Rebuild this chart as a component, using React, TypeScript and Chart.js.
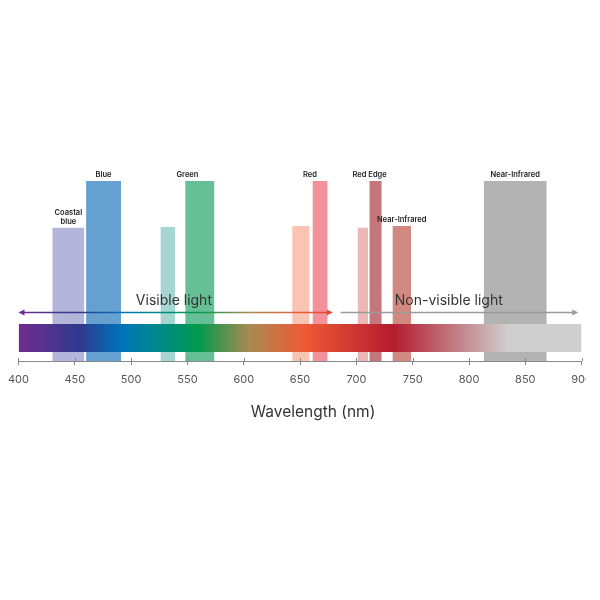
import { useEffect, useRef } from "react";
import { Chart, registerables } from "chart.js";

Chart.register(...registerables);

// ---- data ----
const axisMin = 400;
const axisMax = 900;
const axisStep = 50;
const yMax = 200;

const bandStart = [430, 460, 526, 548, 643, 661, 701, 711.5, 732, 813];
const bandEnd = [458.5, 491, 539, 574, 658.5, 674.5, 710.5, 722.5, 748.5, 869];
const bandHeight = [74, 100, 74.5, 100, 75, 100, 74, 100, 75, 100];
const bandColors = [
  "#b3b6da", "#65a0d0", "#a6d6d2", "#67c095", "#f9c4b1",
  "#f3929a", "#ebb8b5", "#c4767a", "#d28981", "#b3b3b3",
];

const labelTexts = [["Coastal", "blue"], ["Blue"], ["Green"], ["Red"], ["Red Edge"], ["Near-Infrared"], ["Near-Infrared"]];
const labelBands = [[0], [1], [2, 3], [4, 5], [6, 7], [8], [9]];

const spectrumStops = [400, 455, 490, 521, 559, 605, 653, 733, 835, 900];
const spectrumColors = ["#702c8f", "#2e3a8e", "#0071b9", "#00878f", "#009a4d", "#a88a52", "#ef5a36", "#b31c2e", "#cfcfcf", "#cfcfcf"];
const spectrumBottom = 5;
const spectrumTop = 20.5;

const arrowTexts = ["Visible light", "Non-visible light"];
const arrowFrom = [400, 686];
const arrowTo = [679, 897];
const arrowTextAt = [538, 782];
const arrowY = 27;

const axisTitle = "Wavelength (nm)";

const FONT = "Inter, 'Noto Sans', sans-serif";

function spectrumGradient(chart: any) {
  const { ctx, chartArea, scales } = chart;
  if (!chartArea) return "#ccc";
  const x0 = scales.x.getPixelForValue(axisMin);
  const x1 = scales.x.getPixelForValue(axisMax);
  const g = ctx.createLinearGradient(x0, 0, x1, 0);
  spectrumStops.forEach((nm, i) => g.addColorStop((nm - axisMin) / (axisMax - axisMin), spectrumColors[i]));
  return g;
}

const overlayPlugin = {
  id: "overlay",
  afterDraw(chart: any) {
    const ctx = chart.ctx;
    const xs = chart.scales.x;
    const ys = chart.scales.y;
    const y0 = ys.getPixelForValue(0);
    ctx.save();
    // upward part of tick marks
    ctx.strokeStyle = "#888";
    ctx.lineWidth = 1;
    for (let v = axisMin; v <= axisMax; v += axisStep) {
      const px = Math.round(xs.getPixelForValue(v)) + 0.5;
      ctx.beginPath();
      ctx.moveTo(px, y0 - 3);
      ctx.lineTo(px, y0);
      ctx.stroke();
    }
    // band labels
    ctx.fillStyle = "#222";
    ctx.font = `600 7.5px ${FONT}`;
    ctx.textAlign = "center";
    ctx.textBaseline = "alphabetic";
    labelTexts.forEach((lines, i) => {
      const idx = labelBands[i];
      const s = Math.min(...idx.map((k) => bandStart[k]));
      const e = Math.max(...idx.map((k) => bandEnd[k]));
      const h = Math.max(...idx.map((k) => bandHeight[k]));
      const cx = xs.getPixelForValue((s + e) / 2);
      const base = ys.getPixelForValue(h) - 4;
      lines.forEach((t, j) => {
        ctx.fillText(t, cx, base - (lines.length - 1 - j) * 8.5);
      });
    });
    // arrows
    const ay = ys.getPixelForValue(arrowY);
    const grad = spectrumGradient(chart);
    arrowTexts.forEach((t, i) => {
      const xa = xs.getPixelForValue(arrowFrom[i]);
      const xb = xs.getPixelForValue(arrowTo[i]);
      const visible = i === 0;
      const col = visible ? grad : "#9a9a9a";
      ctx.strokeStyle = col;
      ctx.fillStyle = col;
      ctx.lineWidth = 1.5;
      ctx.beginPath();
      ctx.moveTo(xa + (visible ? 4 : 0), ay);
      ctx.lineTo(xb - 4, ay);
      ctx.stroke();
      ctx.beginPath();
      ctx.moveTo(xb, ay);
      ctx.lineTo(xb - 6, ay - 3);
      ctx.lineTo(xb - 6, ay + 3);
      ctx.closePath();
      ctx.fill();
      if (visible) {
        ctx.beginPath();
        ctx.moveTo(xa, ay);
        ctx.lineTo(xa + 6, ay - 3);
        ctx.lineTo(xa + 6, ay + 3);
        ctx.closePath();
        ctx.fill();
      }
      ctx.fillStyle = "#333";
      ctx.font = `400 14px ${FONT}`;
      ctx.textAlign = "center";
      ctx.textBaseline = "alphabetic";
      ctx.fillText(t, xs.getPixelForValue(arrowTextAt[i]), ay - 7);
    });
    // axis title (sits right of the axis centre in the original)
    const ca = chart.chartArea;
    ctx.fillStyle = "#333";
    ctx.font = `400 15.5px ${FONT}`;
    ctx.textAlign = "center";
    ctx.textBaseline = "alphabetic";
    ctx.fillText(axisTitle, (ca.left + ca.right) / 2 + 13, xs.bottom + 23);
    ctx.restore();
  },
};

export default function App() {
  const ref = useRef<HTMLCanvasElement | null>(null);
  useEffect(() => {
    if (!ref.current) return;
    const bandSets = bandStart.map((s, i) => ({
      type: "line" as const,
      data: [
        { x: s, y: 0 },
        { x: s, y: bandHeight[i] },
        { x: bandEnd[i], y: bandHeight[i] },
        { x: bandEnd[i], y: 0 },
      ],
      backgroundColor: bandColors[i],
      borderColor: "rgba(0,0,0,0)",
      borderWidth: 0,
      pointRadius: 0,
      fill: "origin",
      tension: 0,
      order: 1,
    }));
    const spectrumSet = {
      type: "line" as const,
      data: [
        { x: axisMin, y: spectrumTop },
        { x: axisMax, y: spectrumTop },
      ],
      backgroundColor: (c: any) => spectrumGradient(c.chart),
      borderColor: "rgba(0,0,0,0)",
      borderWidth: 0,
      pointRadius: 0,
      fill: { value: spectrumBottom },
      order: 0,
    };
    const chart = new Chart(ref.current, {
      type: "line",
      data: { datasets: [spectrumSet, ...bandSets] as any },
      options: {
        animation: false,
        responsive: false,
        layout: { padding: { left: 18, right: 17, top: 1, bottom: 205.8 } },
        plugins: { legend: { display: false }, tooltip: { enabled: false } },
        scales: {
          x: {
            type: "linear",
            min: axisMin,
            max: axisMax,
            z: 1,
            ticks: {
              stepSize: axisStep,
              padding: 8,
              color: "#555",
              font: { family: FONT, size: 11 },
              maxRotation: 0,
              autoSkip: false,
            },
            grid: { display: true, drawOnChartArea: false, drawTicks: true, tickLength: 4, color: "#888" },
            border: { display: true, color: "#888", width: 1 },
            title: { display: false },
          },
          y: { type: "linear", min: 0, max: yMax, display: false },
        },
      },
      plugins: [overlayPlugin],
    });
    return () => chart.destroy();
  }, []);
  return (
    <div style={{ position: "fixed", left: 0, top: 0, width: 586, height: 600, overflow: "hidden", background: "#fff" }}>
      <canvas ref={ref} width={600} height={600} style={{ display: "block" }} />
    </div>
  );
}
